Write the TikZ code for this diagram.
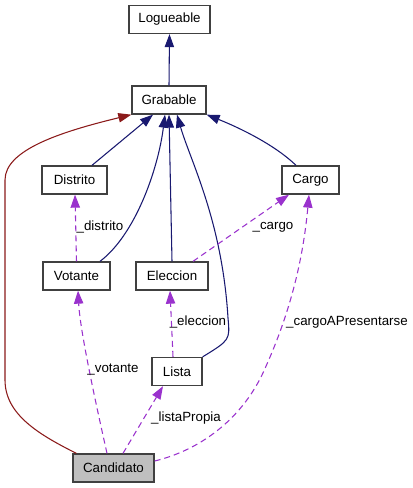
\documentclass[tikz,border=0pt]{standalone}
\usepackage{fontspec}
\setmainfont{Liberation Sans}
\usetikzlibrary{arrows.meta,calc}
\definecolor{inherit}{HTML}{191970}
\definecolor{realize}{HTML}{8B1A1A}
\definecolor{member}{HTML}{9A32CD}
\definecolor{frame}{HTML}{404040}
\definecolor{current}{HTML}{BFBFBF}

\begin{document}
\begin{tikzpicture}[x=0.75pt, y=-0.75pt, font=\fontsize{10}{12}\selectfont,
  >={Triangle[length=9.75pt,width=7pt]},
  cls/.style={draw=frame, line width=1pt, fill=white, minimum height=21pt,
              inner sep=0pt},
  base/.style={->, line width=0.8pt, inherit},
  own/.style={->, line width=0.8pt, member, dash pattern=on 4.5pt off 3pt},
  lab/.style={inner sep=0pt}]

\useasboundingbox (0,0) rectangle (413,488);

% classes
\node[cls, minimum width=60.75pt] (logueable) at (169.5,19.5) {Logueable};
\node[cls, minimum width=55.5pt] (grabable) at (169,100) {Grabable};
\node[cls, minimum width=48.75pt] (distrito) at (74.5,180) {Distrito};
\node[cls, minimum width=42.75pt] (cargo) at (310.5,180) {Cargo};
\node[cls, minimum width=50.25pt] (votante) at (76.5,276) {Votante};
\node[cls, minimum width=54pt] (eleccion) at (172,276) {Eleccion};
\node[cls, minimum width=37.5pt] (lista) at (177,371.5) {Lista};
\node[cls, minimum width=60.75pt, fill=current] (candidato) at (113.5,468) {Candidato};

% inheritance
\draw[base] (grabable.north) -- (logueable.south);
\draw[base] ($(distrito.north)+(17.5,0)$) -- ($(grabable.south)+(-16,0)$);
\draw[base] ($(votante.north)+(23.5,0)$) .. controls (135,235) and (158,170) .. ($(grabable.south)+(-4,0)$);
\draw[base] (eleccion.north) -- (grabable.south);
\draw[base] ($(lista.north east)+(0,0)$) .. controls (230,340) .. (228,318)
  .. controls (222,220) and (190,160) .. ($(grabable.south)+(8,0)$);
\draw[base] ($(cargo.north)+(-14.5,0)$) .. controls (275,145) and (240,128) .. (grabable.south east);
\draw[->, line width=0.8pt, realize] ($(candidato.north west)+(4,0)$) .. controls (40,435) and (5,415) .. (5,380)
  -- (5,180) .. controls (5,150) and (60,132) .. (grabable.south west);

% members
\draw[own] (votante.north) -- ($(distrito.south)+(0.5,0)$);
\node[lab] (ldistrito) at (100,227) {\_distrito};
\draw[own] ($(eleccion.north)+(21,0)$) -- ($(cargo.south)+(-21.5,0)$);
\node[lab] (lcargo) at (273,227) {\_cargo};
\draw[own] ($(lista.north)+(-4,0)$) -- ($(eleccion.south)+(-2,0)$);
\node[lab] (leleccion) at (198,322) {\_eleccion};
\draw[own] ($(candidato.north)+(-6.5,0)$) .. controls (95,400) and (80,330) .. ($(votante.south)+(1.5,0)$);
\node[lab] (lvotante) at (113,370) {\_votante};
\draw[own] ($(candidato.north)+(9.5,0)$) -- ($(lista.south)+(-14,0)$);
\node[lab] (llista) at (186,418) {\_listaPropia};
\draw[own] ($(candidato.east)+(0,-7)$) .. controls (200,450) and (240,420) .. (262,375)
  .. controls (290,315) and (303,260) .. ($(cargo.south)+(-1.5,0)$);
\node[lab] (lcargoap) at (347,322) {\_cargoAPresentarse};

\end{tikzpicture}
\end{document}
